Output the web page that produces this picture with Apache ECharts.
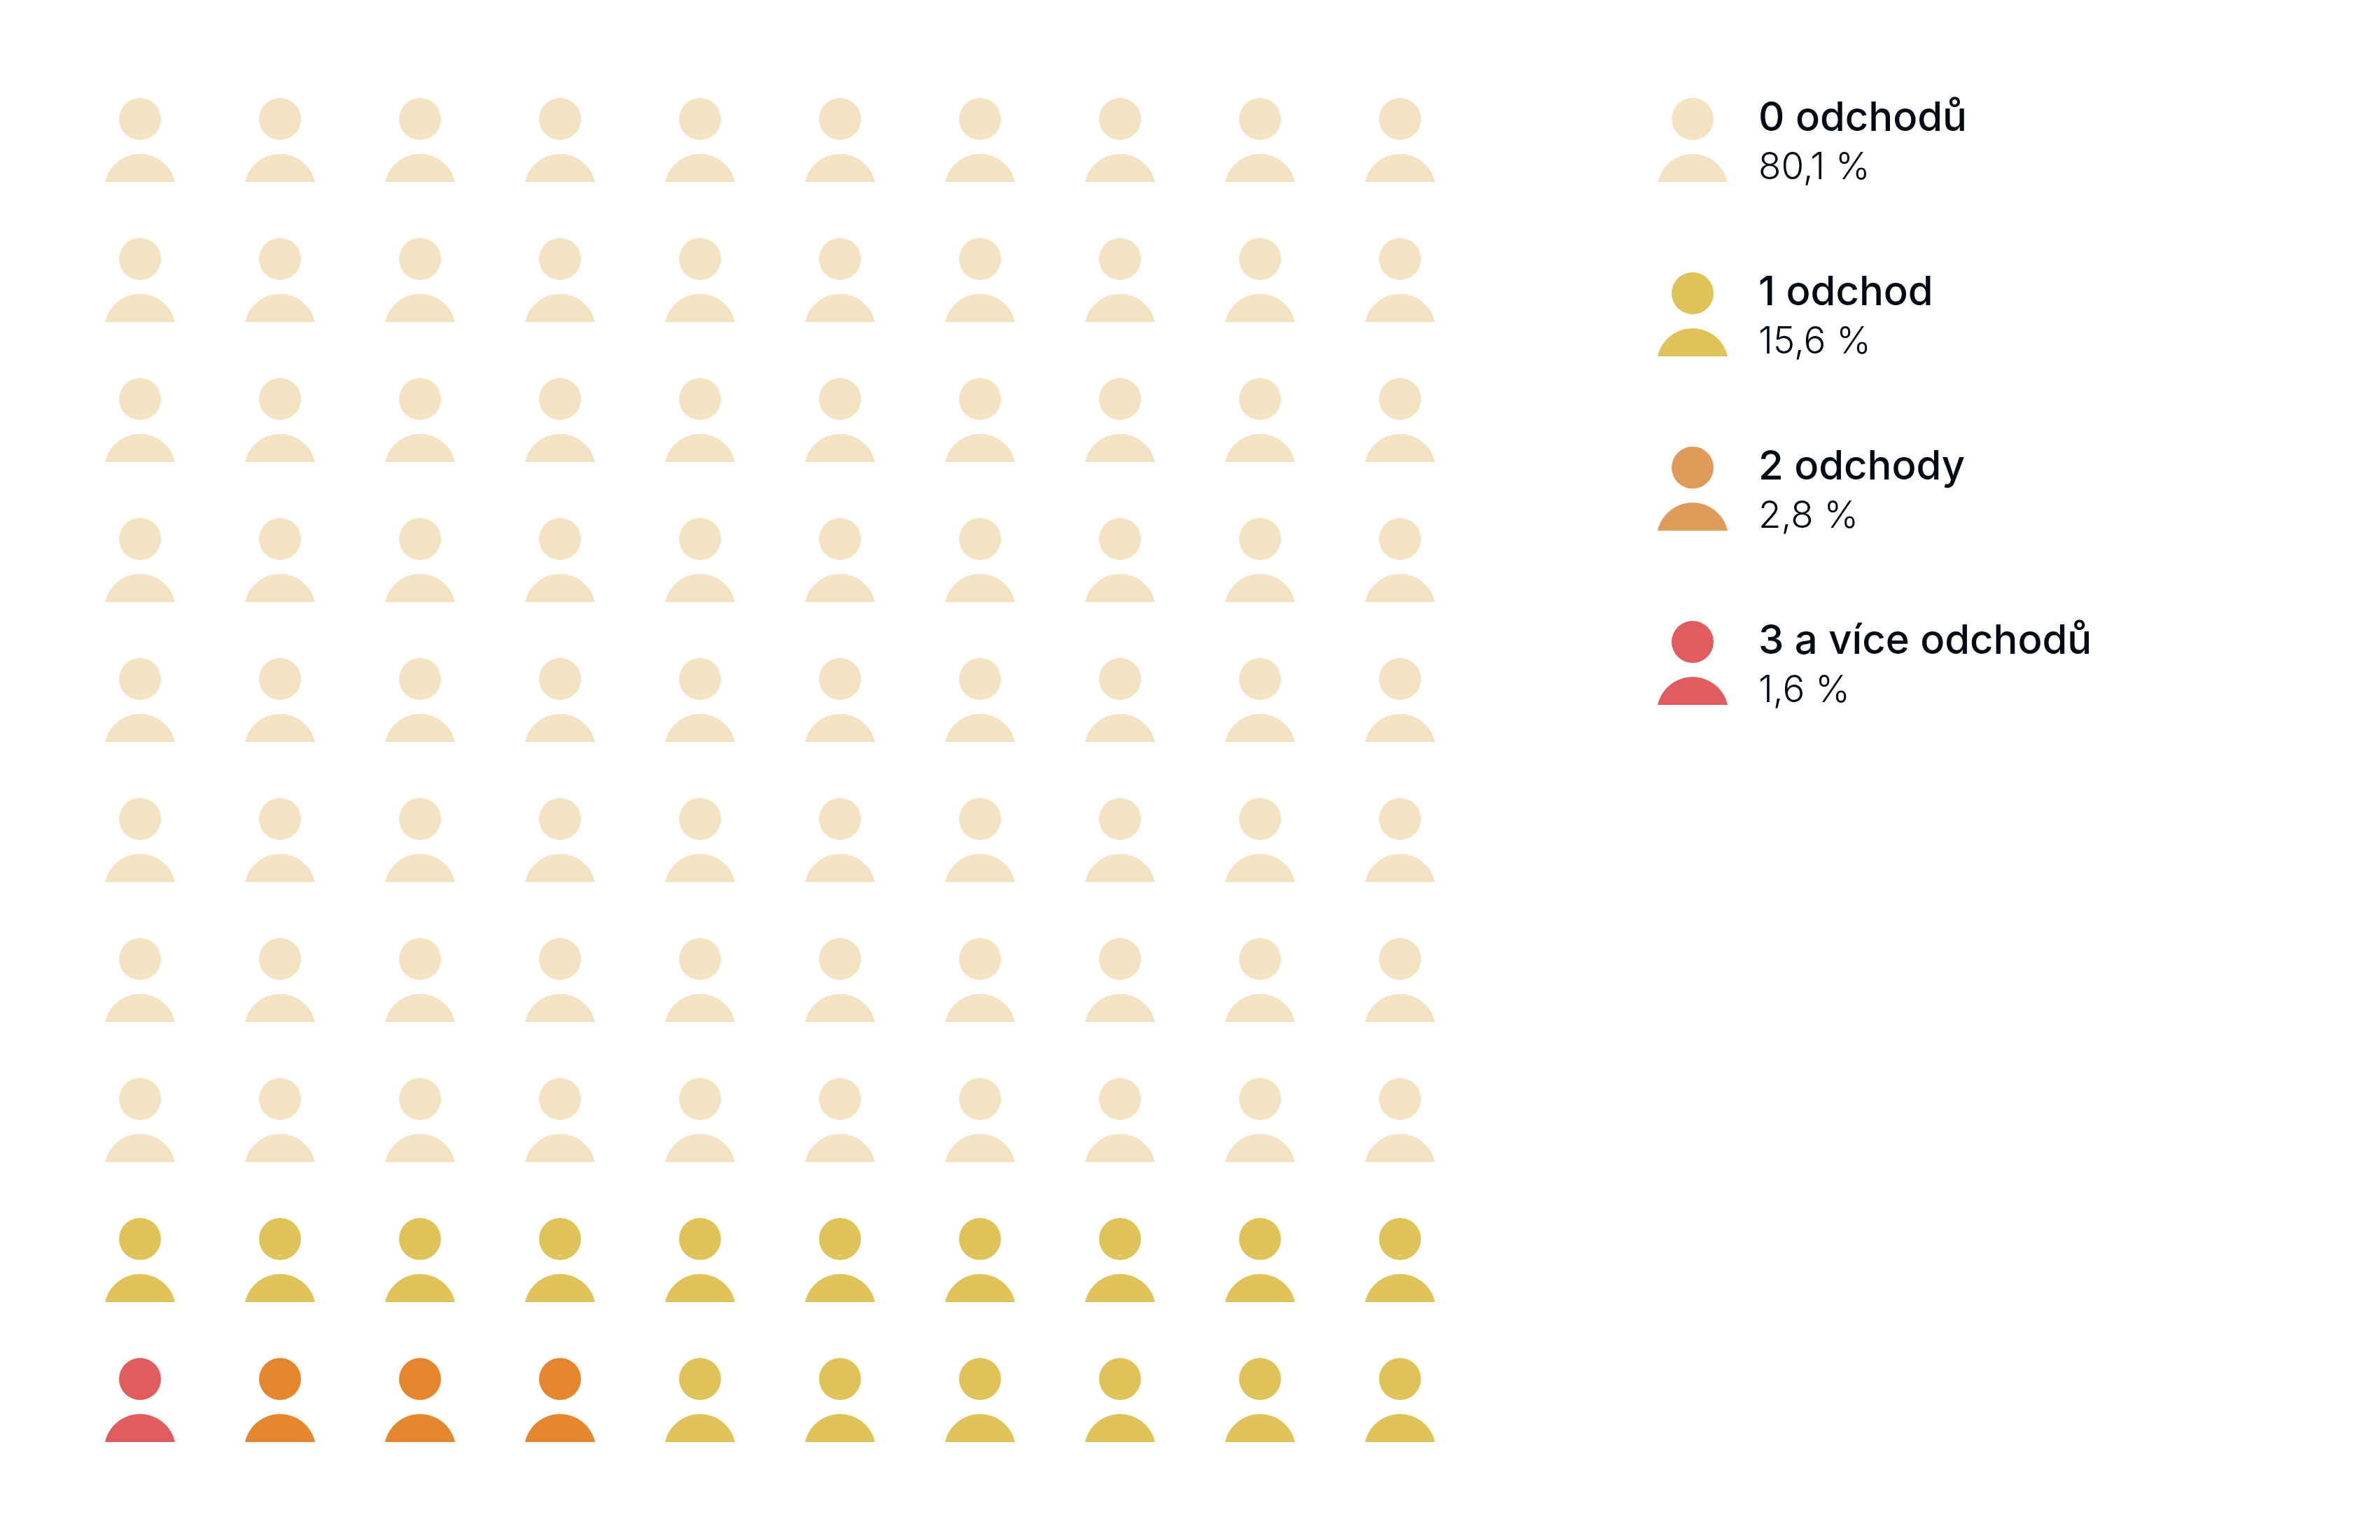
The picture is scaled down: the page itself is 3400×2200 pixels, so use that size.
<!DOCTYPE html>
<html><head><meta charset="utf-8">
<style>html,body{margin:0;padding:0;background:#fff}#c{width:3400px;height:2200px}</style>
<script src="https://cdn.jsdelivr.net/npm/echarts@6/dist/echarts.min.js"></script>
</head><body><div id="c"></div>
<script>
const categories = ['3 a více odchodů', '2 odchody', '1 odchod', '0 odchodů'];
const counts = [1, 3, 16, 80];
const gridColors = ['#E05C5E', '#E5872E', '#DFC35A', '#F3E3C3'];
const legendOrder = [3, 2, 1, 0];
const legendShares = ['80,1 %', '15,6 %', '2,8 %', '1,6 %'];
const legendColors = ['#F3E3C3', '#DFC35A', '#E09A5A', '#E05C5E'];

const PERSON = 'path://M50 0A30 30 0 1 1 50 60A30 30 0 1 1 50 0ZM0 120A51.25 51.25 0 0 1 100 120Z';

const assigned = [];
counts.forEach((n, c) => { for (let i = 0; i < n; i++) assigned.push(c); });
const cells = assigned.map((c, i) => ({
  value: [i % 10, 9 - Math.floor(i / 10)],
  itemStyle: { color: gridColors[c], opacity: 1 }
}));
const legendData = legendOrder.map((c, i) => ({
  value: [0, i],
  itemStyle: { color: legendColors[i], opacity: 1 },
  label: { formatter: '{t|' + categories[c] + '}\n{s|' + legendShares[i] + '}' }
}));
const hiddenAxis = { type: 'value', show: false };

const chart = echarts.init(document.getElementById('c'), null, { renderer: 'canvas' });
chart.setOption({
  animation: false,
  backgroundColor: '#fff',
  grid: [
    { left: 200, top: 200, width: 1800, height: 1800 },
    { left: 2418, top: 200, width: 10, height: 747 }
  ],
  xAxis: [
    { ...hiddenAxis, gridIndex: 0, min: 0, max: 9 },
    { ...hiddenAxis, gridIndex: 1, min: 0, max: 1 }
  ],
  yAxis: [
    { ...hiddenAxis, gridIndex: 0, min: 0, max: 9, inverse: true },
    { ...hiddenAxis, gridIndex: 1, min: 0, max: 3, inverse: true }
  ],
  series: [
    { type: 'scatter', xAxisIndex: 0, yAxisIndex: 0, symbol: PERSON, symbolSize: [100, 120], data: cells, silent: true },
    { type: 'scatter', xAxisIndex: 1, yAxisIndex: 1, symbol: PERSON, symbolSize: [100, 120], data: legendData, silent: true,
      label: {
        show: true, position: 'right', distance: 44, align: 'left', offset: [0, 5],
        rich: {
          t: { fontFamily: 'Inter', fontSize: 58, fontWeight: 500, color: '#000A14', lineHeight: 70 },
          s: { fontFamily: 'Inter', fontSize: 53, fontWeight: 300, color: '#000A14', lineHeight: 70 }
        }
      }
    }
  ]
});
</script></body></html>
